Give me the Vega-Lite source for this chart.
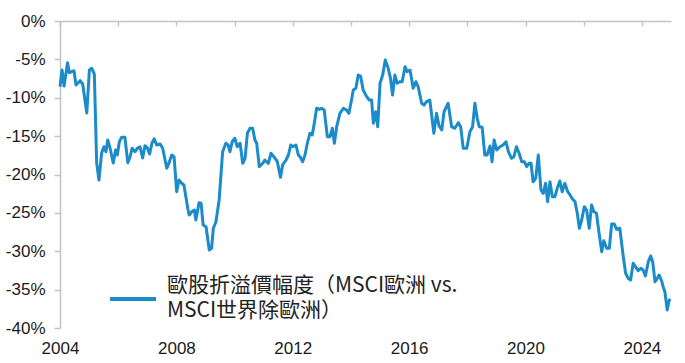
{
  "$schema": "https://vega.github.io/schema/vega-lite/v6.json",
  "autosize": {"type": "none"},
  "padding": {"left": 60, "top": 21, "right": 14, "bottom": 35},
  "width": 611,
  "height": 307,
  "config": {"view": {"stroke": null}, "font": "Liberation Sans"},
  "data": {"values": [
    {"t":2004.00,"v":-8.56},{"t":2004.07,"v":-6.38},{"t":2004.14,"v":-8.47},{"t":2004.26,"v":-5.43},{"t":2004.32,"v":-6.74},
    {"t":2004.48,"v":-6.48},{"t":2004.55,"v":-8.34},{"t":2004.69,"v":-7.78},{"t":2004.78,"v":-8.21},{"t":2004.92,"v":-11.99},
    {"t":2005.01,"v":-6.38},{"t":2005.09,"v":-6.16},{"t":2005.18,"v":-6.91},{"t":2005.26,"v":-18.50},{"t":2005.34,"v":-20.72},
    {"t":2005.43,"v":-17.20},{"t":2005.51,"v":-16.38},{"t":2005.58,"v":-17.03},{"t":2005.64,"v":-15.50},{"t":2005.72,"v":-16.55},
    {"t":2005.83,"v":-18.50},{"t":2005.91,"v":-16.81},{"t":2005.97,"v":-17.46},{"t":2006.04,"v":-15.73},{"t":2006.12,"v":-15.15},
    {"t":2006.23,"v":-15.15},{"t":2006.33,"v":-18.46},{"t":2006.41,"v":-17.68},{"t":2006.48,"v":-16.59},{"t":2006.58,"v":-17.03},
    {"t":2006.66,"v":-16.59},{"t":2006.75,"v":-16.38},{"t":2006.84,"v":-17.85},{"t":2006.92,"v":-16.25},{"t":2007.00,"v":-16.51},
    {"t":2007.08,"v":-17.33},{"t":2007.16,"v":-15.93},{"t":2007.24,"v":-15.34},{"t":2007.32,"v":-16.16},{"t":2007.44,"v":-16.03},
    {"t":2007.53,"v":-16.59},{"t":2007.67,"v":-19.19},{"t":2007.75,"v":-18.46},{"t":2007.84,"v":-17.46},{"t":2007.92,"v":-17.68},
    {"t":2008.01,"v":-22.24},{"t":2008.09,"v":-20.72},{"t":2008.18,"v":-21.15},{"t":2008.26,"v":-21.37},{"t":2008.39,"v":-24.40},
    {"t":2008.44,"v":-25.28},{"t":2008.53,"v":-24.85},{"t":2008.62,"v":-24.63},{"t":2008.67,"v":-25.93},{"t":2008.78,"v":-23.67},
    {"t":2008.85,"v":-23.75},{"t":2008.92,"v":-26.58},{"t":2009.02,"v":-26.80},{"t":2009.13,"v":-29.84},{"t":2009.21,"v":-29.62},
    {"t":2009.27,"v":-27.01},{"t":2009.36,"v":-26.15},{"t":2009.47,"v":-23.32},{"t":2009.59,"v":-17.03},{"t":2009.70,"v":-15.93},
    {"t":2009.78,"v":-16.16},{"t":2009.84,"v":-17.03},{"t":2009.92,"v":-15.73},{"t":2010.01,"v":-15.28},{"t":2010.09,"v":-16.38},
    {"t":2010.19,"v":-15.93},{"t":2010.28,"v":-18.54},{"t":2010.36,"v":-17.89},{"t":2010.44,"v":-14.63},{"t":2010.53,"v":-13.98},
    {"t":2010.62,"v":-13.98},{"t":2010.70,"v":-15.50},{"t":2010.76,"v":-15.93},{"t":2010.85,"v":-18.98},{"t":2010.97,"v":-18.54},
    {"t":2011.04,"v":-18.11},{"t":2011.16,"v":-18.54},{"t":2011.25,"v":-17.24},{"t":2011.35,"v":-17.68},{"t":2011.47,"v":-18.33},
    {"t":2011.58,"v":-20.37},{"t":2011.65,"v":-18.76},{"t":2011.77,"v":-18.11},{"t":2011.85,"v":-17.46},{"t":2011.93,"v":-16.16},
    {"t":2012.00,"v":-16.38},{"t":2012.11,"v":-16.16},{"t":2012.19,"v":-17.46},{"t":2012.25,"v":-17.68},{"t":2012.34,"v":-18.33},
    {"t":2012.42,"v":-17.46},{"t":2012.50,"v":-15.93},{"t":2012.59,"v":-14.63},{"t":2012.67,"v":-14.85},{"t":2012.74,"v":-13.33},
    {"t":2012.82,"v":-11.37},{"t":2012.91,"v":-11.50},{"t":2012.99,"v":-11.37},{"t":2013.08,"v":-11.60},{"t":2013.19,"v":-15.07},
    {"t":2013.28,"v":-15.07},{"t":2013.36,"v":-13.98},{"t":2013.43,"v":-15.93},{"t":2013.51,"v":-13.77},{"t":2013.62,"v":-12.03},
    {"t":2013.74,"v":-11.37},{"t":2013.85,"v":-11.60},{"t":2013.93,"v":-12.03},{"t":2014.02,"v":-10.29},{"t":2014.08,"v":-8.99},
    {"t":2014.17,"v":-8.77},{"t":2014.25,"v":-7.04},{"t":2014.33,"v":-7.17},{"t":2014.42,"v":-8.99},{"t":2014.54,"v":-9.86},
    {"t":2014.63,"v":-10.29},{"t":2014.71,"v":-10.29},{"t":2014.77,"v":-13.33},{"t":2014.85,"v":-11.82},{"t":2014.92,"v":-13.77},
    {"t":2015.00,"v":-8.12},{"t":2015.09,"v":-7.04},{"t":2015.18,"v":-5.08},{"t":2015.28,"v":-6.16},{"t":2015.36,"v":-7.47},
    {"t":2015.43,"v":-9.64},{"t":2015.51,"v":-7.04},{"t":2015.59,"v":-8.12},{"t":2015.68,"v":-7.91},{"t":2015.76,"v":-7.91},
    {"t":2015.86,"v":-5.95},{"t":2015.93,"v":-6.61},{"t":2016.03,"v":-6.38},{"t":2016.14,"v":-8.77},{"t":2016.23,"v":-7.91},
    {"t":2016.31,"v":-8.56},{"t":2016.43,"v":-10.72},{"t":2016.51,"v":-10.94},{"t":2016.60,"v":-10.51},{"t":2016.71,"v":-10.29},
    {"t":2016.85,"v":-14.63},{"t":2016.94,"v":-12.03},{"t":2017.03,"v":-13.68},{"t":2017.12,"v":-14.20},{"t":2017.20,"v":-11.82},
    {"t":2017.34,"v":-10.72},{"t":2017.46,"v":-13.77},{"t":2017.57,"v":-13.98},{"t":2017.69,"v":-13.25},{"t":2017.77,"v":-13.77},
    {"t":2017.86,"v":-16.59},{"t":2017.98,"v":-16.59},{"t":2018.09,"v":-14.42},{"t":2018.18,"v":-13.77},{"t":2018.26,"v":-10.72},
    {"t":2018.34,"v":-12.68},{"t":2018.41,"v":-13.77},{"t":2018.51,"v":-13.85},{"t":2018.60,"v":-17.46},{"t":2018.68,"v":-17.46},
    {"t":2018.78,"v":-16.29},{"t":2018.85,"v":-18.33},{"t":2018.92,"v":-15.50},{"t":2019.01,"v":-16.81},{"t":2019.12,"v":-16.38},
    {"t":2019.23,"v":-16.16},{"t":2019.33,"v":-15.73},{"t":2019.41,"v":-17.03},{"t":2019.52,"v":-17.89},{"t":2019.60,"v":-17.68},
    {"t":2019.69,"v":-16.38},{"t":2019.78,"v":-17.24},{"t":2019.87,"v":-18.33},{"t":2019.96,"v":-18.33},{"t":2020.04,"v":-18.98},
    {"t":2020.12,"v":-18.54},{"t":2020.19,"v":-18.54},{"t":2020.26,"v":-20.94},{"t":2020.35,"v":-20.50},{"t":2020.44,"v":-17.46},
    {"t":2020.53,"v":-22.02},{"t":2020.61,"v":-22.45},{"t":2020.69,"v":-21.15},{"t":2020.76,"v":-23.54},{"t":2020.84,"v":-20.94},
    {"t":2020.92,"v":-22.89},{"t":2021.01,"v":-22.89},{"t":2021.09,"v":-21.80},{"t":2021.18,"v":-20.85},{"t":2021.26,"v":-22.24},
    {"t":2021.35,"v":-21.15},{"t":2021.45,"v":-22.24},{"t":2021.53,"v":-22.67},{"t":2021.62,"v":-23.23},{"t":2021.70,"v":-23.54},
    {"t":2021.78,"v":-25.06},{"t":2021.85,"v":-27.01},{"t":2021.93,"v":-25.93},{"t":2022.02,"v":-24.20},{"t":2022.10,"v":-24.63},
    {"t":2022.19,"v":-27.01},{"t":2022.27,"v":-23.97},{"t":2022.35,"v":-24.85},{"t":2022.44,"v":-25.06},{"t":2022.52,"v":-27.45},
    {"t":2022.62,"v":-30.06},{"t":2022.69,"v":-28.63},{"t":2022.79,"v":-29.62},{"t":2022.88,"v":-29.62},{"t":2022.96,"v":-26.45},
    {"t":2023.05,"v":-26.45},{"t":2023.13,"v":-27.14},{"t":2023.24,"v":-27.01},{"t":2023.36,"v":-30.71},{"t":2023.44,"v":-32.87},
    {"t":2023.53,"v":-33.52},{"t":2023.61,"v":-33.75},{"t":2023.70,"v":-31.57},{"t":2023.78,"v":-32.01},{"t":2023.87,"v":-32.53},
    {"t":2023.96,"v":-32.22},{"t":2024.04,"v":-32.44},{"t":2024.12,"v":-33.22},{"t":2024.22,"v":-31.36},{"t":2024.30,"v":-30.62},
    {"t":2024.37,"v":-31.36},{"t":2024.45,"v":-33.97},{"t":2024.51,"v":-33.65},{"t":2024.59,"v":-33.09},{"t":2024.68,"v":-33.88},
    {"t":2024.73,"v":-34.62},{"t":2024.79,"v":-35.27},{"t":2024.87,"v":-37.65},{"t":2024.94,"v":-36.35},{"t":2024.99,"v":-36.26}
  ]},
  "encoding": {
    "y": {"field": "v", "type": "quantitative", "scale": {"domain": [-40, 0], "nice": false},
      "axis": {"values": [0,-5,-10,-15,-20,-25,-30,-35,-40], "labelExpr": "datum.value + '%'",
        "title": null, "grid": false, "domainColor": "#bfc4ca", "domainWidth": 1.5,
        "tickColor": "#bfc4ca", "tickSize": 6, "tickWidth": 1.5, "labelPadding": 9,
        "labelFontSize": 17, "labelColor": "#1a1a1a", "labelFont": "Liberation Sans"}}
  },
  "layer": [
    {
      "mark": {"type": "line", "strokeOpacity": 0},
      "encoding": {
        "x": {"field": "t", "type": "quantitative",
          "scale": {"domain": [2004, 2025], "nice": false, "zero": false},
          "axis": {"orient": "top", "values": [2004,2006,2008,2010,2012,2014,2016,2018,2020,2022,2024],
            "labels": false, "title": null, "grid": false, "domainColor": "#bfc4ca", "domainWidth": 1.5,
            "tickColor": "#bfc4ca", "tickSize": -5, "tickWidth": 1.5}}
      }
    },
    {
      "mark": {"type": "line", "strokeWidth": 3, "strokeJoin": "round"},
      "encoding": {
        "x": {"field": "t", "type": "quantitative",
          "scale": {"domain": [2004, 2025], "nice": false, "zero": false},
          "axis": {"orient": "bottom", "values": [2004,2008,2012,2016,2020,2024], "format": "d",
            "domain": false, "ticks": false, "grid": false, "title": null, "labelPadding": 12, "labelFlush": false,
            "labelFontSize": 17, "labelColor": "#1a1a1a", "labelFont": "Liberation Sans"}},
        "color": {"datum": "歐股折溢價幅度（MSCI歐洲 vs.|MSCI世界除歐洲）", "type": "nominal",
          "scale": {"range": ["#1b8bc9"]},
          "legend": {"orient": "none", "legendX": 48, "legendY": 253, "title": null, "padding": 0,
            "symbolType": "stroke", "symbolSize": 2116, "symbolStrokeWidth": 4,
            "labelFont": "Noto Sans CJK TC", "labelFontSize": 21, "labelColor": "#222222",
            "labelLimit": 0, "labelOffset": 9, "labelExpr": "split(datum.label, '|')",
            "encode": {"labels": {"update": {"lineHeight": {"value": 25}, "dy": {"value": -13}}}}}}
      }
    }
  ],
  "resolve": {"axis": {"x": "independent"}}
}
